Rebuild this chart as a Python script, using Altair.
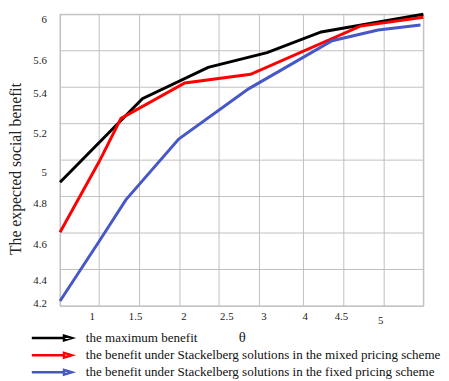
import altair as alt
import pandas as pd

# ---- data (x in grid units: 0 = left border, 9 = right border) ----
series_names = [
    "the maximum benefit",
    "the benefit under Stackelberg solutions in the mixed pricing scheme",
    "the benefit under Stackelberg solutions in the fixed pricing scheme",
]
series_colors = ["#000000", "#ff0000", "#4657c6"]

max_x = [0, 2.04, 3.67, 5.13, 6.47, 9.0]
max_y = [4.879, 5.337, 5.509, 5.590, 5.703, 5.800]

mixed_x = [0, 0.97, 1.51, 3.09, 4.72, 7.44, 9.0]
mixed_y = [4.604, 4.992, 5.229, 5.423, 5.471, 5.735, 5.784]

fixed_x = [0, 0.97, 1.63, 2.94, 4.67, 6.74, 7.88, 8.93]
fixed_y = [4.227, 4.555, 4.782, 5.116, 5.391, 5.655, 5.714, 5.741]

# axis tick labels and where they sit
x_tick_pos = [0.786, 1.86, 3.06, 4.12, 5.04, 6.06, 6.96, 7.93]
x_tick_labels = ["1", "1.5", "2", "2.5", "3", "4", "4.5", "5"]
y_tick_pos = [5.770, 5.545, 5.364, 5.144, 4.929, 4.760, 4.539, 4.340, 4.213]
y_tick_labels = ["6", "5.6", "5.4", "5.2", "5", "4.8", "4.6", "4.4", "4.2"]

# grid lines
v_grid = [0, 0.97, 1.97, 2.97, 3.94, 4.94, 6.03, 7.03, 8.03, 9]
h_grid = [4.2, 4.4, 4.6, 4.8, 5.0, 5.2, 5.4, 5.6, 5.8]

rows = []
for name, xs, ys in zip(series_names, [max_x, mixed_x, fixed_x], [max_y, mixed_y, fixed_y]):
    for i, (xv, yv) in enumerate(zip(xs, ys)):
        rows.append({"series": name, "x": xv, "y": yv, "order": i})
df = pd.DataFrame(rows)


def label_expr(pos, labels):
    p = "[" + ",".join(repr(v) for v in pos) + "]"
    l = "[" + ",".join("'" + s + "'" for s in labels) + "]"
    return f"{l}[indexof({p}, datum.value)]"


FONT = "Liberation Serif"
GRID = "#bfbfbf"

xscale = alt.Scale(domain=[0, 9], nice=False, zero=False)
yscale = alt.Scale(domain=[4.2, 5.8], nice=False, zero=False)

x_axis = alt.Axis(
    values=x_tick_pos,
    labelExpr=label_expr(x_tick_pos, x_tick_labels),
    grid=False, domain=False, ticks=False,
    labelFont=FONT, labelFontSize=11, labelColor="#222222",
    labelPadding={"condition": {"test": "datum.value > 7.5", "value": 9}, "value": 5},
    title="θ", titleFont=FONT, titleFontSize=15, titleFontWeight="normal",
    titleColor="#222222", titleBaseline="middle", titleY=31,
)
y_axis = alt.Axis(
    values=y_tick_pos,
    labelExpr=label_expr(y_tick_pos, y_tick_labels),
    grid=False, domain=False, ticks=False,
    labelFont=FONT, labelFontSize=11, labelColor="#222222",
    labelPadding=14,
    title="The expected social benefit", titleFont=FONT, titleFontSize=16,
    titleFontWeight="normal", titleColor="#222222",
    titleX=-45, titleY=157, titleBaseline="middle", titleAngle=270,
)

vgrid = alt.Chart(pd.DataFrame({"g": v_grid})).mark_rule(color=GRID, strokeWidth=1).encode(
    x=alt.X("g:Q", scale=xscale, axis=x_axis)
)
hgrid = alt.Chart(pd.DataFrame({"g": h_grid})).mark_rule(color=GRID, strokeWidth=1).encode(
    y=alt.Y("g:Q", scale=yscale, axis=y_axis)
)

arrow = "M-9.6,0L-1.4,0M-1.4,-0.6L0.6,0L-1.4,0.6Z"

lines = alt.Chart(df).mark_line(strokeWidth=3, strokeJoin="miter").encode(
    x=alt.X("x:Q", scale=xscale, axis=x_axis),
    y=alt.Y("y:Q", scale=yscale, axis=y_axis),
    color=alt.Color(
        "series:N",
        scale=alt.Scale(domain=series_names, range=series_colors),
        sort=series_names,
        legend=alt.Legend(
            orient="none", legendX=3, legendY=323, title=None,
            symbolType=arrow, symbolSize=64, symbolStrokeWidth=2.5,
            labelFont=FONT, labelFontSize=13.3, labelColor="#111111",
            labelOffset=10, rowPadding=1.5, padding=0, labelLimit=0,
        ),
    ),
    order="order:Q",
)

chart = (
    alt.layer(vgrid, hgrid, lines)
    .properties(
        width=370, height=297,
        autosize=alt.AutoSizeParams(type="none"),
        padding={"left": 53, "top": 3, "right": 18, "bottom": 71},
    )
    .configure_view(stroke=GRID, strokeWidth=1)
    .configure_axis(labelFont=FONT, titleFont=FONT)
    .configure_legend(labelFont=FONT)
    .configure_text(font=FONT)
)

chart.save("out.html", embed_options={"renderer": "svg", "actions": False})
